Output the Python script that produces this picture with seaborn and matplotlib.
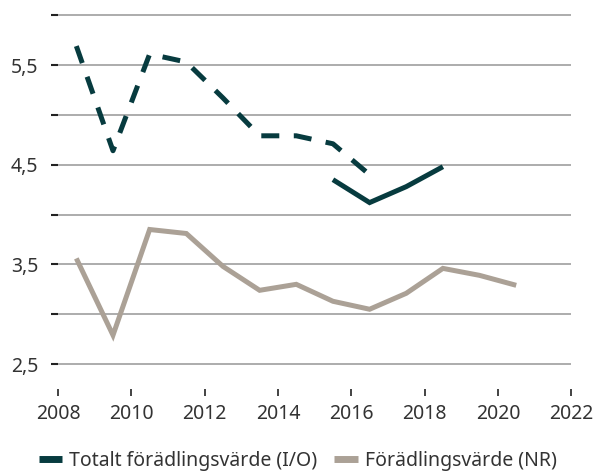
import numpy as np
import pandas as pd
import matplotlib
matplotlib.use("Agg")
import matplotlib.pyplot as plt
from matplotlib.lines import Line2D
import seaborn as sns

# ── data ─────────────────────────────────────────────────────────────────
years_nr = [2008.5, 2009.5, 2010.5, 2011.5, 2012.5, 2013.5, 2014.5,
            2015.5, 2016.5, 2017.5, 2018.5, 2019.5, 2020.5]
nr_values = [3.56, 2.79, 3.85, 3.81, 3.48, 3.24, 3.30,
             3.13, 3.05, 3.21, 3.46, 3.39, 3.29]

years_io_est = [2008.5, 2009.5, 2010.5, 2011.5, 2012.5, 2013.5, 2014.5, 2015.5, 2016.5]
io_est_values = [5.69, 4.64, 5.61, 5.53, 5.17, 4.79, 4.79, 4.71, 4.40]

years_io = [2015.5, 2016.5, 2017.5, 2018.5]
io_values = [4.35, 4.12, 4.28, 4.48]

x_ticks = list(range(2008, 2023, 2))
y_ticks = [2.5, 3.0, 3.5, 4.0, 4.5, 5.0, 5.5, 6.0]
y_labels = ["2,5", "", "3,5", "", "4,5", "", "5,5", ""]

legend_labels = ["Totalt förädlingsvärde (I/O)", "Förädlingsvärde (NR)"]

DARK = "#073b3f"
GREY = "#aba196"

sns.set_theme(style="white")
plt.rcParams["font.family"] = ["Noto Sans", "DejaVu Sans"]

fig = plt.figure(figsize=(5.95, 4.73), dpi=100)
ax = fig.add_axes([0.0975, 0.1776, 0.8625, 0.7924])

df_nr = pd.DataFrame({"year": years_nr, "value": nr_values})
df_est = pd.DataFrame({"year": years_io_est, "value": io_est_values})
df_io = pd.DataFrame({"year": years_io, "value": io_values})

sns.lineplot(data=df_nr, x="year", y="value", ax=ax, color=GREY, linewidth=3.6,
             solid_joinstyle="miter", solid_capstyle="butt")
sns.lineplot(data=df_est, x="year", y="value", ax=ax, color=DARK, linewidth=3.6,
             linestyle="--", dash_capstyle="butt")
ax.lines[-1].set_dashes((3.6, 2.9))
sns.lineplot(data=df_io, x="year", y="value", ax=ax, color=DARK, linewidth=3.6,
             solid_joinstyle="miter", solid_capstyle="butt")

ax.set_xlim(2008, 2022)
ax.set_ylim(2.25, 6.01)
ax.set_xticks(x_ticks)
ax.set_yticks(y_ticks)
ax.set_yticklabels(y_labels)
ax.set_xlabel("")
ax.set_ylabel("")

ax.grid(axis="y", color="#a6a6a6", linewidth=1.3)
ax.grid(axis="x", visible=False)
ax.set_axisbelow(True)
for s in ax.spines.values():
    s.set_visible(False)

ax.tick_params(axis="y", length=5, width=1.5, color="#222222", pad=9,
               labelsize=14, labelcolor="#333333", left=True)
ax.tick_params(axis="x", length=5, width=1.2, color="#222222", pad=6,
               labelsize=14, labelcolor="#333333", bottom=True)

handles = [Line2D([0], [0], color=DARK, linewidth=5, solid_capstyle="butt"),
           Line2D([0], [0], color=GREY, linewidth=5, solid_capstyle="butt")]
fig.legend(handles, legend_labels, loc="center", bbox_to_anchor=(0.5, 0.025),
           ncol=2, frameon=False, fontsize=14, handlelength=1.2,
           handletextpad=0.35, columnspacing=0.9, labelcolor="#333333")

fig.savefig("out.png", dpi=100)
